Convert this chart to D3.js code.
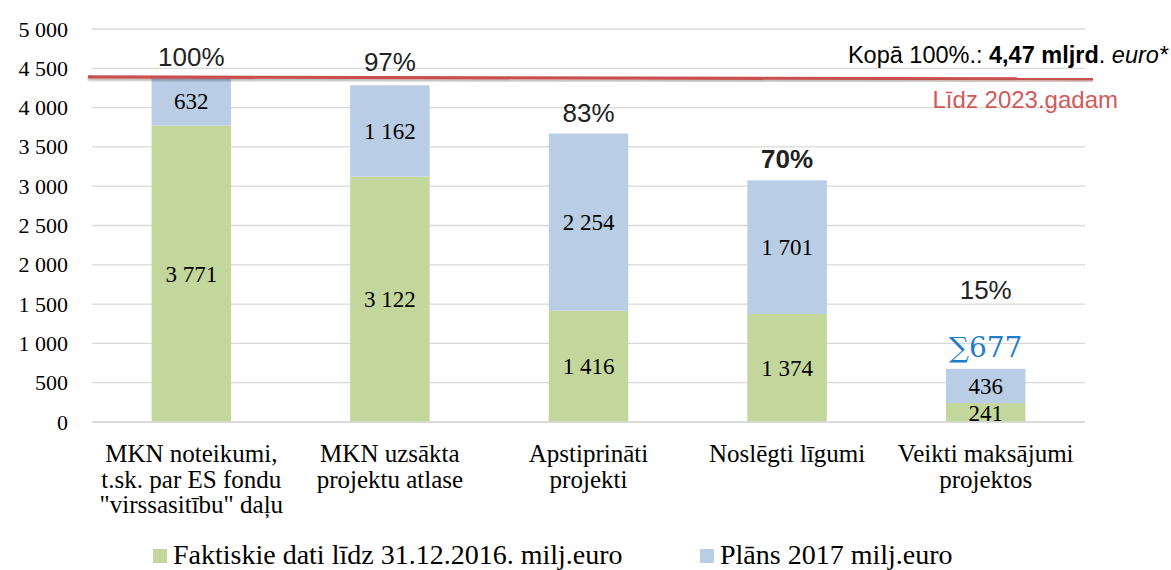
<html>
<head>
<meta charset="utf-8">
<script src="https://d3js.org/d3.v7.min.js"></script>
<style>
  body { margin: 0; background: #fff; }
</style>
</head>
<body>
<script>

const categories = [
  ["MKN noteikumi,", "t.sk. par ES fondu", "\"virssasitību\" daļu"],
  ["MKN uzsākta", "projektu atlase"],
  ["Apstiprināti", "projekti"],
  ["Noslēgti līgumi"],
  ["Veikti maksājumi", "projektos"]
];
const actual = [3771, 3122, 1416, 1374, 241];   // Faktiskie dati
const plan   = [632, 1162, 2254, 1701, 436];    // Plāns 2017
const shares = ["100%", "97%", "83%", "70%", "15%"];
const yTicks = [0, 500, 1000, 1500, 2000, 2500, 3000, 3500, 4000, 4500, 5000];
const targetLine = [4390, 4365];   // red line "Līdz 2023.gadam", left and right end
const seriesNames = ["Faktiskie dati līdz 31.12.2016. milj.euro", "Plāns 2017 milj.euro"];
const colors = ["#c3d69b", "#b9cde5"];

const W = 1171, H = 570;
const plotLeft = 92, plotRight = 1085, plotTop = 29, plotBottom = 422;
const serif = '"Liberation Serif", "Times New Roman", serif';
const sans = '"Liberation Sans", Arial, sans-serif';

const svg = d3.select('body').append('svg')
  .attr('width', W)
  .attr('height', H)
  .attr('font-family', serif);

const defs = svg.append('defs');
const f = defs.append('filter').attr('id', 'shadow').attr('height', '400%').attr('y', '-150%');
f.append('feDropShadow').attr('dx', 0).attr('dy', 2).attr('stdDeviation', 1.2)
  .attr('flood-color', '#000').attr('flood-opacity', 0.3);

const x = d3.scaleBand()
  .domain(d3.range(categories.length))
  .range([plotLeft, plotRight])
  .paddingInner(0.6)
  .paddingOuter(0.3);

const y = d3.scaleLinear()
  .domain([0, 5000])
  .range([plotBottom, plotTop]);

const fmt = v => d3.format(",")(v).replace(/,/g, " ");

// grid
svg.append('g')
  .selectAll('line')
  .data(yTicks)
  .enter().append('line')
  .attr('x1', plotLeft).attr('x2', plotRight)
  .attr('y1', d => y(d)).attr('y2', d => y(d))
  .attr('stroke', '#d9d9d9')
  .attr('stroke-width', 1.3);

// y axis labels
const yAxis = svg.append('g')
  .attr('transform', `translate(${plotLeft}, 0)`)
  .call(d3.axisLeft(y).tickValues(yTicks).tickSize(0).tickPadding(24).tickFormat(fmt));
yAxis.select('.domain').remove();
yAxis.attr('font-family', null).attr('font-size', null);
yAxis.selectAll('text')
  .attr('fill', '#000')
  .attr('font-family', serif)
  .attr('font-size', 22);

// stacked bars
const stack = d3.stack().keys([0, 1])(actual.map((a, i) => ({0: a, 1: plan[i]})));

const layers = svg.append('g')
  .selectAll('g')
  .data(stack)
  .enter().append('g')
  .attr('fill', (d, i) => colors[i]);

layers.selectAll('rect')
  .data(d => d)
  .enter().append('rect')
  .attr('x', (d, i) => x(i))
  .attr('width', x.bandwidth())
  .attr('y', d => y(d[1]))
  .attr('height', d => y(d[0]) - y(d[1]));

// value labels inside segments
layers.selectAll('text')
  .data(d => d.map(s => ({s: s, v: s[1] - s[0]})))
  .enter().append('text')
  .attr('x', (d, i) => x(i) + x.bandwidth() / 2)
  .attr('y', d => (y(d.s[0]) + y(d.s[1])) / 2)
  .attr('dy', '0.35em')
  .attr('text-anchor', 'middle')
  .attr('fill', '#000')
  .attr('font-size', 23)
  .text(d => fmt(d.v));

// bottom axis line
svg.append('line')
  .attr('x1', plotLeft).attr('x2', plotRight)
  .attr('y1', y(0)).attr('y2', y(0))
  .attr('stroke', '#d9d9d9')
  .attr('stroke-width', 1.5);

// red target line
svg.append('line')
  .attr('x1', plotLeft - 4).attr('x2', plotRight + 8)
  .attr('y1', y(targetLine[0])).attr('y2', y(targetLine[1]))
  .attr('stroke', '#c9504f')
  .attr('stroke-width', 3.2)
  .attr('filter', 'url(#shadow)');

// percent labels above bars
const totals = actual.map((a, i) => a + plan[i]);
const pctOffset = [10, 14, 12, 12, 70];
svg.append('g')
  .selectAll('text')
  .data(shares)
  .enter().append('text')
  .attr('x', (d, i) => x(i) + x.bandwidth() / 2)
  .attr('y', (d, i) => y(totals[i]) - pctOffset[i])
  .attr('text-anchor', 'middle')
  .attr('font-family', sans)
  .attr('font-size', 26)
  .attr('font-weight', (d, i) => i === 3 ? 'bold' : 'normal')
  .attr('fill', '#222')
  .text(d => d);

// sum label for last bar
const last = categories.length - 1;
svg.append('text')
  .attr('x', x(last) + x.bandwidth() / 2)
  .attr('y', y(totals[last]) - 12)
  .attr('text-anchor', 'middle')
  .attr('font-family', '"DejaVu Serif", "Liberation Serif", serif')
  .attr('font-size', 28)
  .attr('fill', '#1f7dc9')
  .text('∑' + totals[last]);

// total annotation
const kopa = svg.append('text')
  .attr('x', W - 3)
  .attr('y', 63)
  .attr('text-anchor', 'end')
  .attr('font-family', sans)
  .attr('font-size', 23.5)
  .attr('fill', '#000');
kopa.append('tspan').text('Kopā 100%.: ');
kopa.append('tspan').attr('font-weight', 'bold').text('4,47 mljrd');
kopa.append('tspan').text('. ');
kopa.append('tspan').attr('font-style', 'italic').text('euro*');

svg.append('text')
  .attr('x', 1118)
  .attr('y', 108)
  .attr('text-anchor', 'end')
  .attr('font-family', sans)
  .attr('font-size', 24)
  .attr('fill', '#d05a5a')
  .text('Līdz 2023.gadam');

// category labels
const cat = svg.append('g')
  .selectAll('text')
  .data(categories)
  .enter().append('text')
  .attr('x', (d, i) => x(i) + x.bandwidth() / 2)
  .attr('y', 462)
  .attr('text-anchor', 'middle')
  .attr('font-family', serif)
  .attr('font-size', 25)
  .attr('fill', '#000');
cat.selectAll('tspan')
  .data(d => d)
  .enter().append('tspan')
  .attr('x', function() { return this.parentNode.getAttribute('x'); })
  .attr('dy', (d, i) => i === 0 ? 0 : 25.5)
  .text(d => d);

// legend
const legendX = [153, 700];
const legend = svg.append('g')
  .selectAll('g')
  .data(seriesNames)
  .enter().append('g')
  .attr('transform', (d, i) => `translate(${legendX[i]}, 556)`);
legend.append('rect')
  .attr('x', 0).attr('y', -7)
  .attr('width', 14).attr('height', 14)
  .attr('fill', (d, i) => colors[i]);
legend.append('text')
  .attr('x', 20)
  .attr('y', 8)
  .attr('font-family', serif)
  .attr('font-size', 28)
  .attr('fill', '#000')
  .text(d => d);

</script>
</body>
</html>
